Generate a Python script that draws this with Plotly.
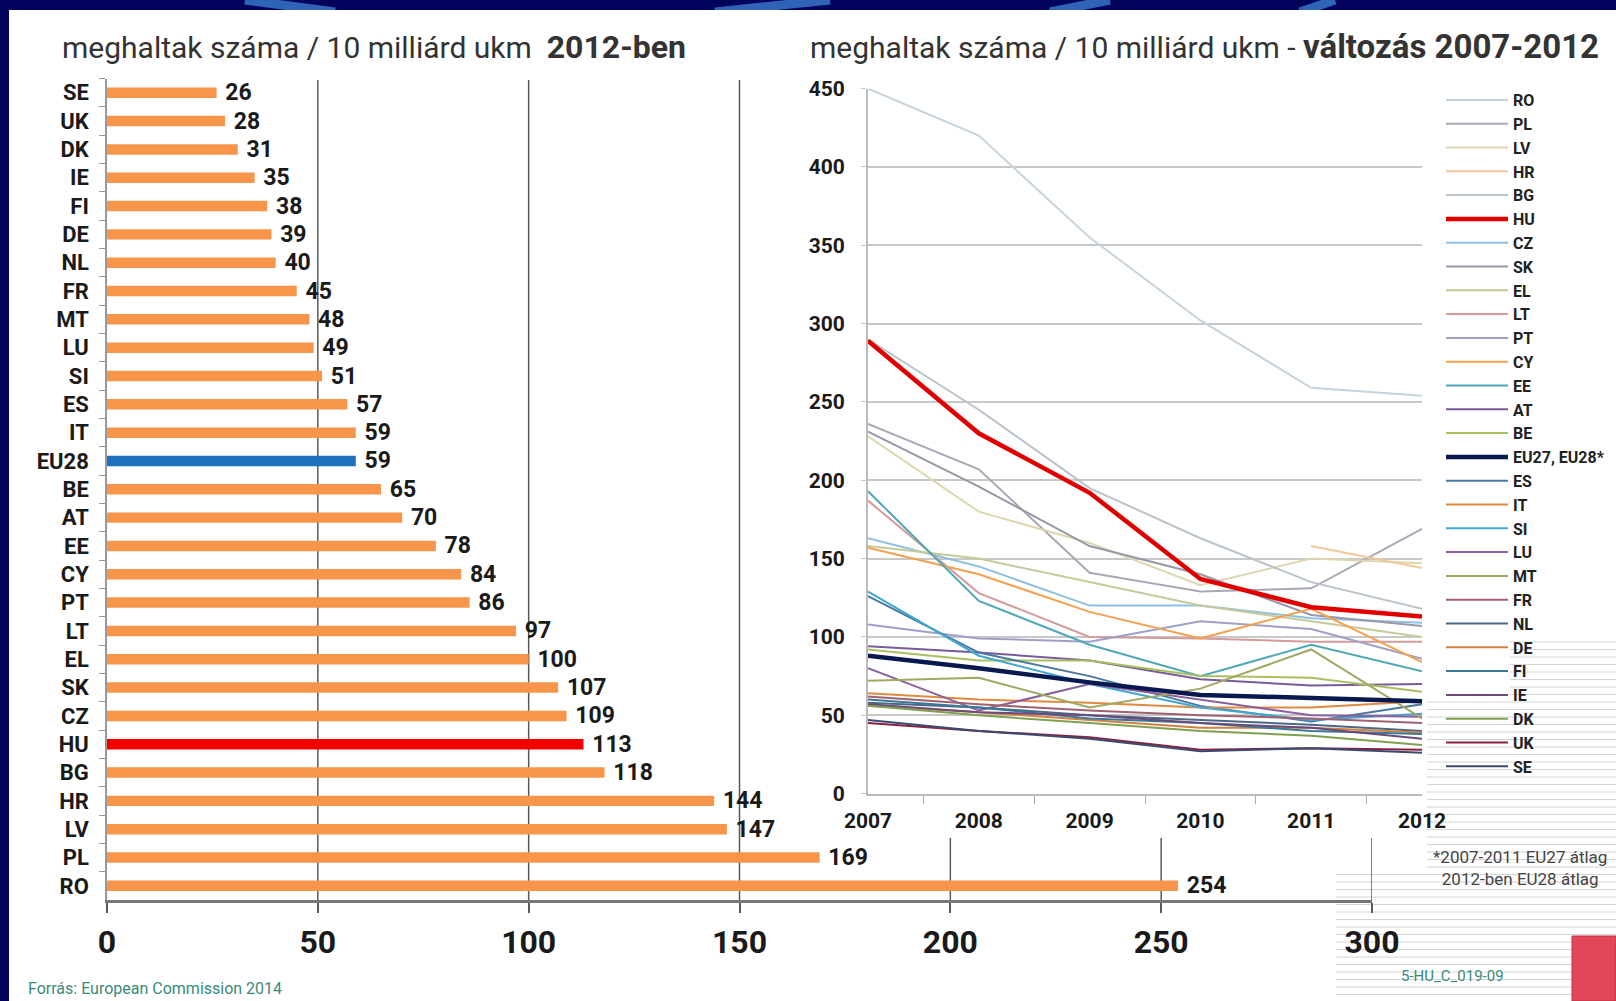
import plotly.graph_objects as go

W, H = 1616, 1001
FONT = "Roboto, Liberation Sans, sans-serif"

# ---------------- data: bar chart (2012) ----------------
bar_countries = ["SE", "UK", "DK", "IE", "FI", "DE", "NL", "FR", "MT", "LU", "SI", "ES", "IT", "EU28",
                 "BE", "AT", "EE", "CY", "PT", "LT", "EL", "SK", "CZ", "HU", "BG", "HR", "LV", "PL", "RO"]
bar_values = [26, 28, 31, 35, 38, 39, 40, 45, 48, 49, 51, 57, 59, 59,
              65, 70, 78, 84, 86, 97, 100, 107, 109, 113, 118, 144, 147, 169, 254]
bar_ticks = [0, 50, 100, 150, 200, 250, 300]

# ---------------- data: line chart 2007-2012 ----------------
years = ["2007", "2008", "2009", "2010", "2011", "2012"]
ro = [450, 420, 355, 302, 259, 254]
pl = [236, 207, 141, 129, 131, 169]
lv = [228, 180, 160, 133, 150, 147]
hr = [None, None, None, None, 158, 144]
bg = [290, 245, 195, 163, 135, 118]
hu = [289, 230, 192, 137, 119, 113]
cz = [163, 145, 120, 120, 112, 109]
sk = [231, 196, 158, 140, 114, 107]
el = [158, 150, 135, 120, 110, 100]
lt = [187, 128, 100, 99, 97, 97]
pt = [108, 99, 97, 110, 105, 86]
cy = [157, 140, 116, 99, 118, 84]
ee = [193, 123, 95, 75, 95, 78]
at = [94, 90, 85, 73, 69, 70]
be = [92, 85, 85, 75, 74, 65]
eu = [88, 80, 71, 63, 61, 59]
es = [126, 90, 75, 56, 46, 57]
it = [64, 60, 58, 55, 55, 59]
si = [129, 88, 70, 55, 47, 51]
lu = [80, 53, 70, 60, 50, 49]
mt = [72, 74, 55, 67, 92, 48]
fr = [62, 57, 53, 50, 48, 45]
nl = [58, 55, 50, 47, 44, 40]
de = [56, 52, 47, 42, 42, 39]
fi = [60, 55, 48, 45, 40, 38]
ie = [57, 52, 50, 45, 42, 35]
dk = [56, 50, 45, 40, 37, 31]
uk = [45, 40, 36, 28, 29, 28]
se = [47, 40, 35, 27, 29, 26]

legend_names = ["RO", "PL", "LV", "HR", "BG", "HU", "CZ", "SK", "EL", "LT", "PT", "CY", "EE", "AT", "BE",
                "EU27, EU28*", "ES", "IT", "SI", "LU", "MT", "FR", "NL", "DE", "FI", "IE", "DK", "UK", "SE"]
series = [ro, pl, lv, hr, bg, hu, cz, sk, el, lt, pt, cy, ee, at, be,
          eu, es, it, si, lu, mt, fr, nl, de, fi, ie, dk, uk, se]
line_colors = ["#c6d4de", "#a8a8b6", "#ddd6ae", "#f0c898", "#b9c3cb", "#e00000", "#8fc0e0", "#9898aa",
               "#c6ca98", "#d49a9a", "#9ea0c8", "#f5a04e", "#4fa8b8", "#7a5a9a", "#a8c060",
               "#0a1850", "#4a78a0", "#e08a40", "#40a8d0", "#8a60a0", "#a0a860", "#a06070",
               "#4a6888", "#d08040", "#3a7898", "#6a4a78", "#80a050", "#8a2040", "#3a4a70"]
line_widths = [2 if n not in ("HU", "EU27, EU28*") else 4.5 for n in legend_names]


def fx(px):
    return px / W


def fy(py):
    return 1 - py / H


fig = go.Figure()

# bars
bar_colors = ["#1f6fbf" if c == "EU28" else ("#f00000" if c == "HU" else "#f7964a") for c in bar_countries]
fig.add_trace(go.Bar(
    x=bar_values, y=bar_countries, orientation="h", marker=dict(color=bar_colors, line=dict(width=0)),
    text=bar_values, texttemplate="\u00a0%{x}", textposition="outside", constraintext="none",
    cliponaxis=False, textfont=dict(size=23, color="#1a1a1a", family=FONT, weight="bold"),
    xaxis="x", yaxis="y", showlegend=False, hoverinfo="skip"))

# lines: draw HU and EU last (on top), legend order via legendrank
draw_order = [i for i, n in enumerate(legend_names) if n not in ("HU", "EU27, EU28*")]
draw_order += [legend_names.index("EU27, EU28*"), legend_names.index("HU")]
for i in draw_order:
    fig.add_trace(go.Scatter(
        x=years, y=series[i], name=legend_names[i], mode="lines",
        line=dict(color=line_colors[i], width=line_widths[i]),
        xaxis="x2", yaxis="y2", legendrank=i + 1, connectgaps=False))

shapes = []
# navy frame decorations
for (a, b) in [(245, 335), (830, 715), (1110, 1050), (1335, 1300)]:
    shapes.append(dict(type="line", xref="paper", yref="paper", x0=fx(a), x1=fx(b), y0=fy(0), y1=fy(12),
                       line=dict(color="#2f63b8", width=9), layer="below"))
# white panel
shapes.append(dict(type="rect", xref="paper", yref="paper", x0=fx(9), x1=1, y0=0, y1=fy(10),
                   fillcolor="white", line=dict(width=0), layer="below"))
# decorative stripes bottom right
y = 642
while y < H:
    x0 = 1510 if y < 700 else (1427 if y < 868 else 1336)
    shapes.append(dict(type="line", xref="paper", yref="paper", x0=fx(x0), x1=1, y0=fy(y), y1=fy(y),
                       line=dict(color="#d4d4d4", width=1), layer="below"))
    y += 7.5
# red box bottom right
shapes.append(dict(type="rect", xref="paper", yref="paper", x0=fx(1572), x1=1, y0=0, y1=fy(936),
                   fillcolor="#e0485a", line=dict(color="#c0303f", width=1), layer="below"))
# bar chart vertical gridlines
for v in bar_ticks[1:]:
    top = 80 if v <= 150 else 838
    shapes.append(dict(type="line", xref="x", yref="paper", x0=v, x1=v, y0=fy(900), y1=fy(top),
                       line=dict(color="#5a5a5a", width=1.5), layer="below"))

annotations = [
    dict(text="meghaltak száma / 10 milliárd ukm  <b><span style='font-size:32px'>2012-ben</span></b>",
         x=fx(60), y=fy(47), xref="paper", yref="paper",
         xanchor="left", yanchor="middle", showarrow=False, font=dict(size=30, color="#333333", family=FONT)),
    dict(text="meghaltak száma / 10 milliárd ukm - <b><span style='font-size:33px'>változás 2007-2012</span></b>",
         x=fx(808), y=fy(47), xref="paper", yref="paper", xanchor="left", yanchor="middle", showarrow=False,
         font=dict(size=30, color="#333333", family=FONT)),
    dict(text="*2007-2011 EU27 átlag<br>2012-ben EU28 átlag", x=fx(1520), y=fy(868), xref="paper", yref="paper",
         xanchor="center", yanchor="middle", showarrow=False, align="center",
         font=dict(size=17, color="#444444", family=FONT)),
    dict(text="5-HU_C_019-09", x=fx(1399), y=fy(976), xref="paper", yref="paper", xanchor="left",
         yanchor="middle", showarrow=False, font=dict(size=15, color="#3a8a7a", family=FONT)),
    dict(text="Forrás: European Commission 2014", x=fx(26), y=fy(988), xref="paper", yref="paper",
         xanchor="left", yanchor="middle", showarrow=False, font=dict(size=16, color="#3a8a7a", family=FONT)),
]

fig.update_layout(
    width=W, height=H, margin=dict(l=0, r=0, t=0, b=0, autoexpand=False),
    paper_bgcolor="#02045c", plot_bgcolor="white",
    font=dict(family=FONT, color="#1a1a1a"),
    bargap=0.63, shapes=shapes, annotations=annotations,
    xaxis=dict(domain=[fx(107), fx(1372)], range=[0, 300], tickvals=bar_ticks, ticks="outside", ticklen=10,
               tickwidth=1.5, tickcolor="#5a5a5a", showline=True, linecolor="#777777", linewidth=2.5,
               showgrid=False, zeroline=False, ticklabelstandoff=2, automargin=False,
               tickfont=dict(size=32, weight="bold", color="#1a1a1a"), anchor="y", fixedrange=True),
    yaxis=dict(domain=[fy(900), fy(78.6)], type="category", autorange="reversed", tickson="boundaries",
               ticks="outside", ticklen=6, tickcolor="#999999", showline=True, linecolor="#999999",
               linewidth=1.5, showgrid=False, ticklabelstandoff=12, automargin=False,
               tickfont=dict(size=22, weight="bold", color="#1a1a1a"), anchor="x", fixedrange=True),
    xaxis2=dict(domain=[fx(868), fx(1422)], type="category", tickson="boundaries", ticks="outside",
                ticklen=8, tickcolor="#aaaaaa", showline=True, linecolor="#bbbbbb", linewidth=2,
                showgrid=False, ticklabelstandoff=7, automargin=False,
                tickfont=dict(size=21, weight="bold", color="#1a1a1a"), anchor="y2", fixedrange=True),
    yaxis2=dict(domain=[fy(793.6), fy(88.6)], range=[0, 450], dtick=50, showgrid=True, gridcolor="#c8c8c8",
                gridwidth=2, showline=True, linecolor="#bbbbbb", linewidth=2, zeroline=False,
                ticks="outside", ticklen=5, tickcolor="#c8c8c8", ticklabelstandoff=12, automargin=False,
                tickfont=dict(size=21, weight="bold", color="#1a1a1a"), anchor="x2", fixedrange=True),
    legend=dict(x=fx(1441), y=fy(83), xanchor="left", yanchor="top", bgcolor="rgba(0,0,0,0)",
                font=dict(size=16, weight="bold", color="#222222", family=FONT), itemwidth=62,
                tracegroupgap=0),
)

fig.write_html("out.html", config={"displayModeBar": False},
               post_script="document.body.style.margin='0';")
